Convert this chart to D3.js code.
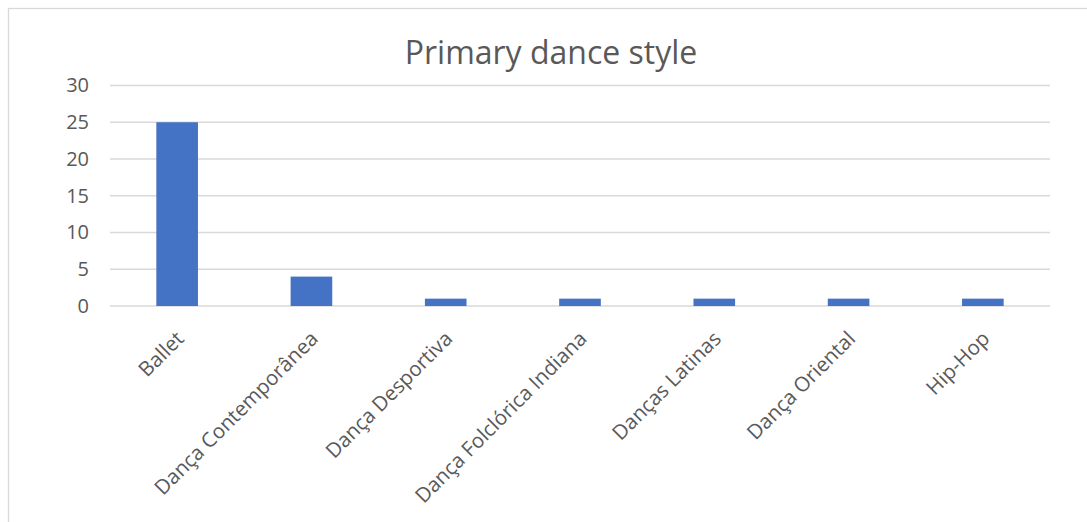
<!DOCTYPE html>
<html>
<head>
<meta charset="utf-8">
<script src="https://cdn.jsdelivr.net/npm/d3@7"></script>
<style>
  body { margin: 0; background: #fff; }
  .axis text { font-family: "Open Sans", sans-serif; fill: #595959; }
  .title { font-family: "Open Sans", sans-serif; fill: #595959; }
</style>
</head>
<body>
<script>
// Primary dance style counts
var styles = ["Ballet", "Dança Contemporânea", "Dança Desportiva", "Dança Folclórica Indiana",
  "Danças Latinas", "Dança Oriental", "Hip-Hop"];
var counts = [25, 4, 1, 1, 1, 1, 1];
var yTicks = [0, 5, 10, 15, 20, 25, 30];

var data = styles.map(function(s, i) { return { name: s, value: counts[i] }; });

// Page dimensions
var W = 1087, H = 522;
var margin = { top: 85.5, right: 37, bottom: 216, left: 110 },
  width = W - margin.left - margin.right,
  height = H - margin.top - margin.bottom;

var svg = d3.select("body")
  .append("svg")
  .attr("width", W)
  .attr("height", H);

// Chart frame
svg.append("rect")
  .attr("x", 8.5)
  .attr("y", 8.5)
  .attr("width", W + 10)
  .attr("height", H + 10)
  .attr("fill", "none")
  .attr("stroke", "#d9d9d9")
  .attr("stroke-width", 1.3);

svg.append("text")
  .attr("class", "title")
  .attr("x", 551)
  .attr("y", 64)
  .attr("text-anchor", "middle")
  .style("font-size", "32px")
  .text("Primary dance style");

var chart = svg.append("g")
  .attr("transform", "translate(" + margin.left + "," + margin.top + ")");

var x = d3.scaleBand()
  .domain(styles)
  .range([0, width])
  .paddingInner(0.69)
  .paddingOuter(0.345);

var y = d3.scaleLinear()
  .domain([0, 30])
  .range([height, 0]);

// Gridlines
chart.selectAll(".grid")
  .data(yTicks)
  .enter().append("line")
  .attr("class", "grid")
  .attr("x1", 0)
  .attr("x2", width)
  .attr("y1", function(d) { return y(d); })
  .attr("y2", function(d) { return y(d); })
  .attr("stroke", "#d9d9d9")
  .attr("stroke-width", 1.3);

// Y axis labels
var yAxis = d3.axisLeft(y).tickValues(yTicks).tickSize(0).tickPadding(21);
chart.append("g")
  .attr("class", "y axis")
  .call(yAxis)
  .call(function(g) { g.select(".domain").remove(); })
  .selectAll("text")
  .style("font-size", "20px");

// Bars
chart.selectAll(".bar")
  .data(data)
  .enter().append("rect")
  .attr("class", "bar")
  .attr("x", function(d) { return x(d.name); })
  .attr("y", function(d) { return y(d.value); })
  .attr("width", x.bandwidth())
  .attr("height", function(d) { return height - y(d.value); })
  .attr("fill", "#4472c4");

// X axis labels, rotated
var xAxis = d3.axisBottom(x).tickSize(0).tickPadding(0);
chart.append("g")
  .attr("class", "x axis")
  .attr("transform", "translate(0," + height + ")")
  .call(xAxis)
  .call(function(g) { g.select(".domain").remove(); })
  .selectAll("text")
  .style("font-size", "20.5px")
  .attr("text-anchor", "end")
  .attr("dy", "0")
  .attr("transform", "translate(8,34) rotate(-45)");
</script>
</body>
</html>
